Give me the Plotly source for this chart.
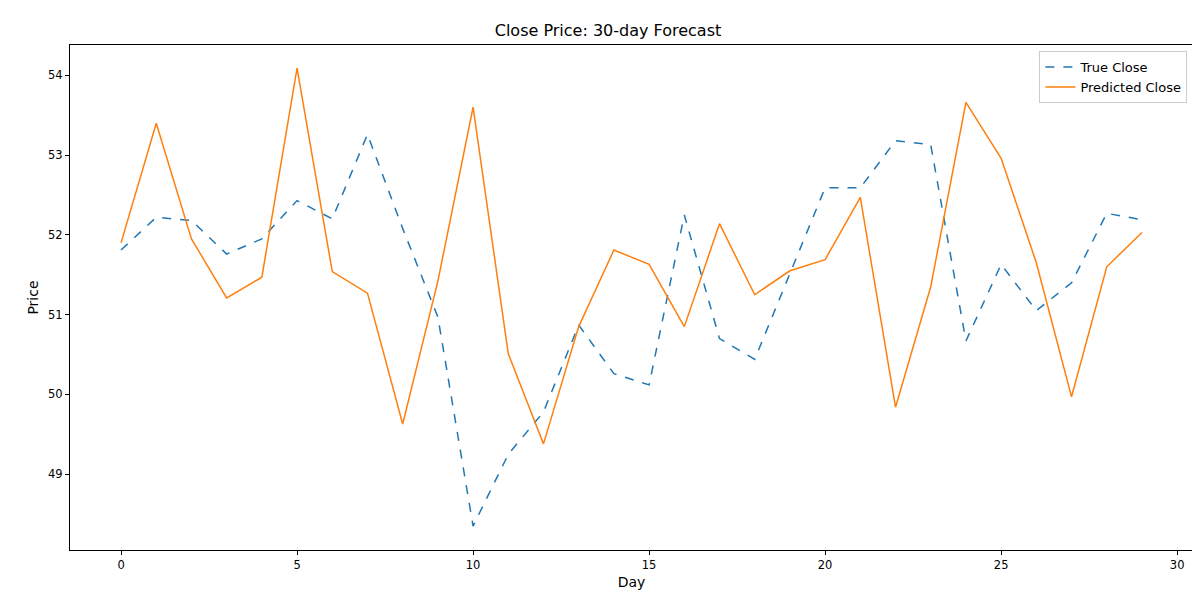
import plotly.graph_objects as go

days = list(range(30))
true_close = [51.81, 52.22, 52.18, 51.76, 51.95, 52.43, 52.20, 53.26, 52.08, 50.97,
              48.35, 49.25, 49.78, 50.87, 50.26, 50.12, 52.25, 50.70, 50.44, 51.51,
              52.59, 52.59, 53.18, 53.13, 50.67, 51.63, 51.05, 51.40, 52.27, 52.19]
pred_close = [51.90, 53.40, 51.95, 51.21, 51.47, 54.09, 51.54, 51.27, 49.63, 51.42,
              53.60, 50.51, 49.38, 50.85, 51.81, 51.63, 50.85, 52.14, 51.25, 51.55,
              51.69, 52.47, 49.84, 51.35, 53.66, 52.96, 51.65, 49.97, 51.60, 52.03]

fig = go.Figure()
fig.add_trace(go.Scatter(x=days, y=true_close, mode="lines", name="True Close",
                         line=dict(color="#1f77b4", width=1.5, dash="dash")))
fig.add_trace(go.Scatter(x=days, y=pred_close, mode="lines", name="Predicted Close",
                         line=dict(color="#ff7f0e", width=1.5)))

axis = dict(showgrid=False, zeroline=False, showline=True, mirror=True, linecolor="black",
            ticks="outside", ticklen=4, tickcolor="black", tickfont=dict(size=11.5),
            automargin=False)
fig.update_layout(
    width=1200, height=600, plot_bgcolor="white", paper_bgcolor="white",
    font=dict(family="DejaVu Sans", color="black", size=12),
    title=dict(text="Close Price: 30-day Forecast", x=0.5, xanchor="center",
               yref="container", y=0.962, yanchor="middle", automargin=False,
               font=dict(size=16)),
    margin=dict(l=62, r=15, t=37, b=58, autoexpand=False),
    xaxis=dict(axis, title=dict(text="Day", standoff=6), range=[-1.45, 30.45], dtick=5),
    yaxis=dict(axis, title=dict(text="Price", standoff=6), range=[48.05, 54.38], dtick=1),
    legend=dict(x=0.995, y=0.988, xanchor="right", yanchor="top", bordercolor="#cccccc",
                borderwidth=1, bgcolor="rgba(255,255,255,0.8)", font=dict(size=13)),
)
fig.write_html("out.html")
